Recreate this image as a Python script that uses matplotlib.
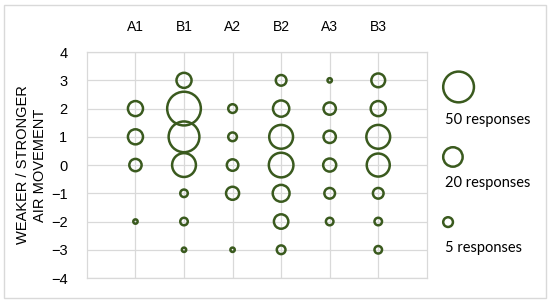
import numpy as np
import matplotlib.pyplot as plt

plt.rcParams['font.family'] = ['Liberation Sans', 'DejaVu Sans']

# Data: number of responses per vote level for each case
categories = ['A1', 'B1', 'A2', 'B2', 'A3', 'B3']
levels = [3, 2, 1, 0, -1, -2, -3]
a1 = [0, 12, 12, 8, 0, 1, 0]
b1 = [12, 60, 50, 30, 3, 3, 1]
a2 = [0, 4, 4, 7, 9, 0, 1]
b2 = [6, 14, 30, 32, 15, 11, 4]
a3 = [1, 8, 8, 9, 6, 3, 0]
b3 = [10, 12, 30, 28, 6, 3, 3]
legend_counts = [50, 20, 5]
legend_labels = ['50 responses', '20 responses', '5 responses']

green = '#3A5A1E'
grid_col = '#D9D9D9'
scale = 9.8  # marker area (pt^2) per response

fig = plt.figure(figsize=(5.5, 3.03), dpi=100)
ax = fig.add_axes([0.158, 0.0825, 0.618, 0.7455])

series = [a1, b1, a2, b2, a3, b3]
for i, counts in enumerate(series):
    counts = np.array(counts)
    lv = np.array(levels)
    keep = counts > 0
    ax.scatter(np.full(keep.sum(), i + 1), lv[keep], s=counts[keep] * scale,
               facecolors='none', edgecolors=green, linewidths=1.8, zorder=3,
               clip_on=False)

ax.set_xlim(0, 7)
ax.set_ylim(-4, 4)
ax.set_xticks(range(1, 7))
ax.set_xticklabels(categories, fontsize=10)
ax.xaxis.tick_top()
ax.set_yticks(range(-4, 5))
ax.tick_params(axis='x', length=0, pad=13)
ax.tick_params(axis='y', length=0, pad=14, labelsize=10.5)
ax.grid(True, color=grid_col, linewidth=0.9)
ax.set_axisbelow(True)
for sp in ax.spines.values():
    sp.set_color(grid_col)
    sp.set_linewidth(0.9)
ax.set_ylabel('WEAKER / STRONGER\nAIR MOVEMENT', fontsize=10.5,
              linespacing=1.25)
ax.yaxis.set_label_coords(-0.118, 0.5)

# bubble size key on the right
key_x = 0.804
key_y = [0.713, 0.482, 0.267]
text_y = [0.604, 0.396, 0.182]
for c, lab, ky, ty in zip(legend_counts, legend_labels, key_y, text_y):
    s = c * scale
    r_px = np.sqrt(s) / 0.72 / 2
    ax.scatter([key_x + (r_px + 1) / 550], [ky], s=s,
               facecolors='none', edgecolors=green, linewidths=1.8,
               transform=fig.transFigure, clip_on=False)
    fig.text(0.809, ty, lab, fontsize=10.5, family='Lato', va='center', ha='left')

# light frame around the whole chart
fig.patches.append(plt.Rectangle((0.008, 0.017), 0.984, 0.967, transform=fig.transFigure,
                                 fill=False, edgecolor=grid_col, linewidth=1))

fig.savefig('out.png', dpi=100)
